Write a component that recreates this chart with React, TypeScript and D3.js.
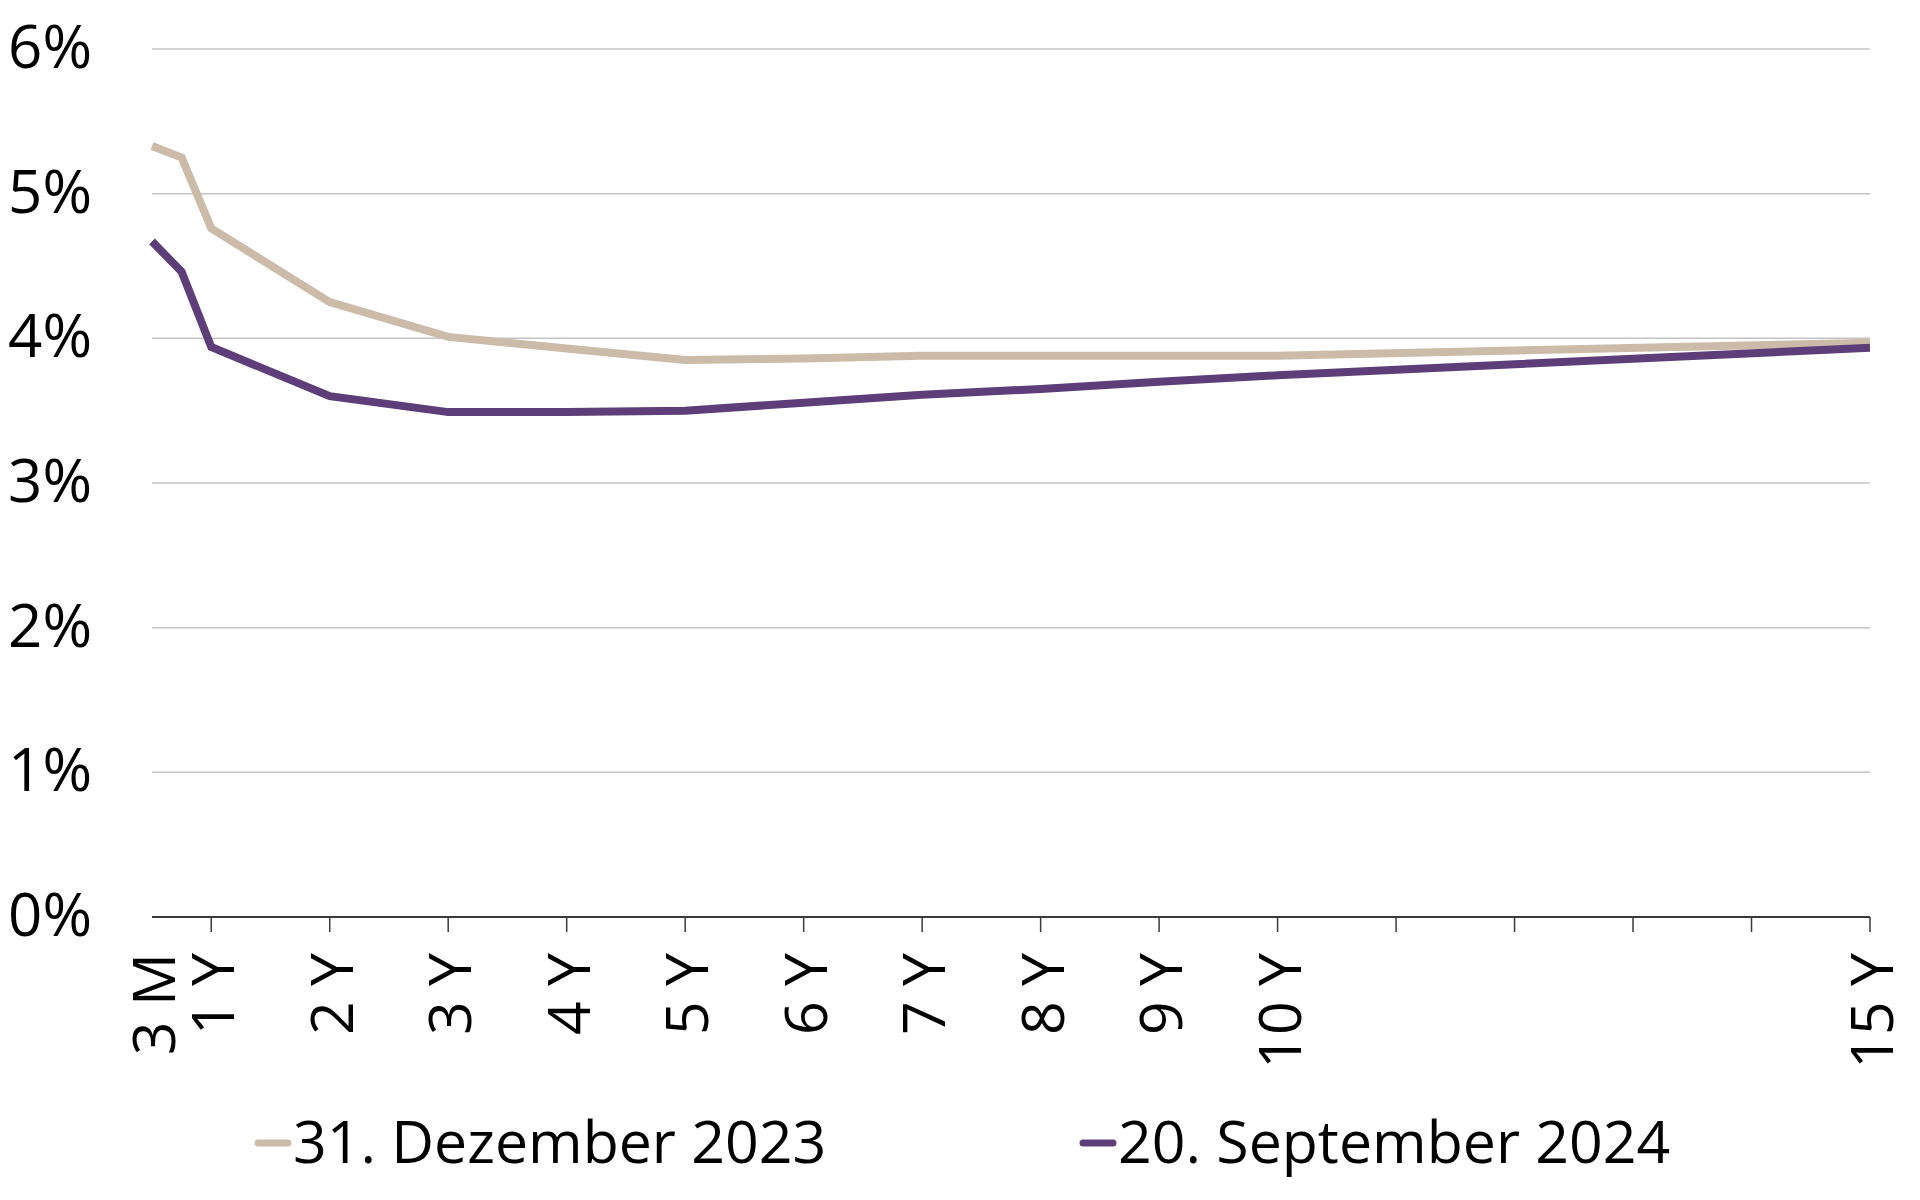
import React from "react";
import * as d3 from "d3";

// tenors as they sit on the chart's year axis (3 M is drawn at the axis origin)
const tenorLabels = ["3 M", "6 M", "1 Y", "2 Y", "3 Y", "4 Y", "5 Y", "6 Y", "7 Y", "8 Y", "9 Y", "10 Y", "15 Y"];
const tenorPos = [0.5, 0.75, 1, 2, 3, 4, 5, 6, 7, 8, 9, 10, 15];

const dec2023 = [5.33, 5.25, 4.76, 4.25, 4.01, 3.93, 3.85, 3.86, 3.88, 3.88, 3.88, 3.88, 3.97];
const sep2024 = [4.67, 4.46, 3.94, 3.6, 3.49, 3.49, 3.5, 3.555, 3.61, 3.65, 3.7, 3.745, 3.935];

const yTicks = [0, 1, 2, 3, 4, 5, 6];
const xTicks = [1, 2, 3, 4, 5, 6, 7, 8, 9, 10, 11, 12, 13, 14, 15];
const xTickLabels: Record<number, string> = {
  0.5: "3 M", 1: "1 Y", 2: "2 Y", 3: "3 Y", 4: "4 Y", 5: "5 Y", 6: "6 Y",
  7: "7 Y", 8: "8 Y", 9: "9 Y", 10: "10 Y", 15: "15 Y",
};

const series = [
  { name: "31. Dezember 2023", values: dec2023, color: "#cbbba8" },
  { name: "20. September 2024", values: sep2024, color: "#5d3e78" },
];

const W = 1920;
const H = 1200;
const FONT = "'Open Sans', sans-serif";

export default function App() {
  const x = d3.scaleLinear().domain([0.5, 15]).range([152, 1870]);
  const y = d3.scaleLinear().domain([0, 6]).range([917, 49]);

  const line = d3
    .line<number>()
    .x((d, i) => x(tenorPos[i]))
    .y((d) => y(d));

  const labelPos = [0.5, ...xTicks].filter((t) => xTickLabels[t]);
  const legendX = [255, 1080];

  return (
    <svg
      width={W}
      height={H}
      style={{ position: "absolute", left: 0, top: 0, background: "#fff" }}
      fontFamily={FONT}
    >
      {/* gridlines */}
      {yTicks.slice(1).map((t) => (
        <line key={t} x1={x(0.5)} x2={x(15)} y1={y(t)} y2={y(t)} stroke="#c4c4c4" strokeWidth={1.5} />
      ))}
      {/* y labels */}
      {yTicks.map((t) => (
        <text key={t} x={92} y={y(t) - 4} textAnchor="end" dominantBaseline="central" fontSize={60} fill="#000">
          {t + "%"}
        </text>
      ))}
      {/* x axis */}
      <line x1={x(0.5)} x2={x(15)} y1={y(0)} y2={y(0)} stroke="#3a3a3a" strokeWidth={2} />
      {xTicks.map((t) => (
        <line key={t} x1={x(t)} x2={x(t)} y1={y(0)} y2={y(0) + 15} stroke="#3a3a3a" strokeWidth={1.5} />
      ))}
      {labelPos.map((t) => (
        <text
          key={t}
          transform={`translate(${x(t)},953) rotate(-90)`}
          textAnchor="end"
          dominantBaseline="central"
          fontSize={59}
          fill="#000"
        >
          {xTickLabels[t]}
        </text>
      ))}
      {/* lines */}
      {series.map((s) => (
        <path key={s.name} d={line(s.values) || ""} fill="none" stroke={s.color} strokeWidth={8} strokeLinejoin="miter" />
      ))}
      {/* legend */}
      {series.map((s, i) => (
        <g key={s.name} transform={`translate(${legendX[i]},0)`}>
          <line x1={3} x2={33} y1={1143} y2={1143} stroke={s.color} strokeWidth={7} strokeLinecap="round" />
          <text x={38} y={1163} fontSize={59} fill="#000">
            {s.name}
          </text>
        </g>
      ))}
    </svg>
  );
}
